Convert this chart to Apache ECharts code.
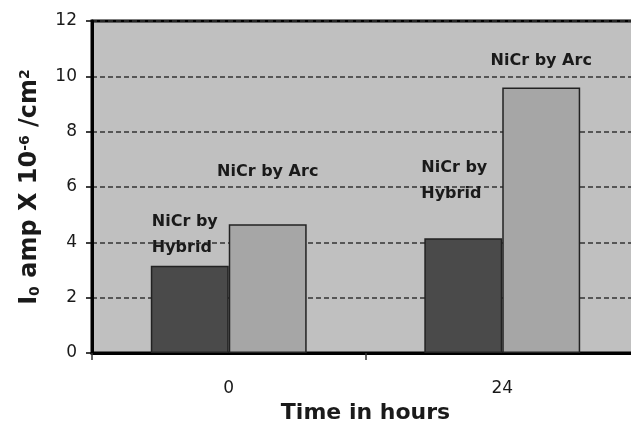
<!DOCTYPE html>
<html>
<head>
<meta charset="utf-8">
<script src="https://cdn.jsdelivr.net/npm/echarts@6/dist/echarts.min.js"></script>
<style>
html,body{margin:0;padding:0;background:#fff;overflow:hidden;}
#chart{width:631px;height:423px;}
</style>
</head>
<body>
<div id="chart"></div>
<script>
const categories = ['0', '24'];
const hybridValues = [3.15, 4.15];
const arcValues = [4.65, 9.6];
const hybridLabel = 'NiCr by\nHybrid';
const arcLabel = 'NiCr by Arc';
const yMin = 0, yMax = 12, yStep = 2;

const FONT = 'DejaVu Sans';
const chart = echarts.init(document.getElementById('chart'), null, {renderer: 'canvas'});

const hybridLabelOffsets = [[1, -57], [-3, -83]];
const arcLabelDistances = [45, 19];

const labelStyle = {
  fontFamily: FONT, fontWeight: 'bold', fontSize: 16, color: '#1a1a1a'
};

chart.setOption({
  animation: false,
  backgroundColor: '#ffffff',
  grid: {
    left: 92, top: 21, width: 547, height: 332,
    outerBoundsMode: 'none',
    containLabel: false,
    show: true, backgroundColor: '#c0c0c0', borderColor: '#000', borderWidth: 3
  },
  xAxis: {
    type: 'category',
    data: categories,
    name: 'Time in hours',
    nameLocation: 'middle',
    nameGap: 44,
    nameTextStyle: {fontFamily: FONT, fontWeight: 'bold', fontSize: 22, color: '#1a1a1a'},
    axisLine: {lineStyle: {color: '#000', width: 3}},
    axisTick: {show: true, length: 7, lineStyle: {color: '#333', width: 1.5}},
    axisLabel: {fontFamily: FONT, fontSize: 17, color: '#1a1a1a', margin: 27},
    splitLine: {show: false}
  },
  yAxis: {
    type: 'value',
    min: yMin, max: yMax, interval: yStep,
    name: '{b|I}{sub|0}{b| amp X 10}{sup|-6}{b| /cm}{sup|2}',
    nameLocation: 'middle',
    nameGap: 50,
    nameRotate: 90,
    nameTextStyle: {
      rich: {
        b: {fontFamily: FONT, fontWeight: 'bold', fontSize: 24, color: '#1a1a1a'},
        sub: {fontFamily: FONT, fontWeight: 'bold', fontSize: 14, color: '#1a1a1a', verticalAlign: 'bottom'},
        sup: {fontFamily: FONT, fontWeight: 'bold', fontSize: 14, color: '#1a1a1a', verticalAlign: 'top'}
      }
    },
    axisLine: {show: true, lineStyle: {color: '#000', width: 3}},
    axisTick: {show: true, length: 6, lineStyle: {color: '#000', width: 1.5}},
    axisLabel: {fontFamily: FONT, fontSize: 17, color: '#1a1a1a', margin: 15},
    splitLine: {show: true, lineStyle: {color: '#333', width: 1.5, type: [5, 3]}}
  },
  series: [
    {
      name: 'Hybrid',
      type: 'bar',
      barGap: '0%',
      barCategoryGap: '43%',
      itemStyle: {color: '#4a4a4a', borderColor: '#222', borderWidth: 1.5},
      data: hybridValues.map((v, i) => ({
        value: v,
        label: {
          show: true,
          formatter: hybridLabel,
          position: hybridLabelOffsets[i],
          align: 'left', verticalAlign: 'top',
          lineHeight: 26,
          ...labelStyle
        }
      }))
    },
    {
      name: 'Arc',
      type: 'bar',
      itemStyle: {color: '#a6a6a6', borderColor: '#222', borderWidth: 1.5},
      data: arcValues.map((v, i) => ({
        value: v,
        label: {
          show: true,
          formatter: arcLabel,
          position: 'top',
          distance: arcLabelDistances[i],
          ...labelStyle
        }
      }))
    }
  ]
});
</script>
</body>
</html>
